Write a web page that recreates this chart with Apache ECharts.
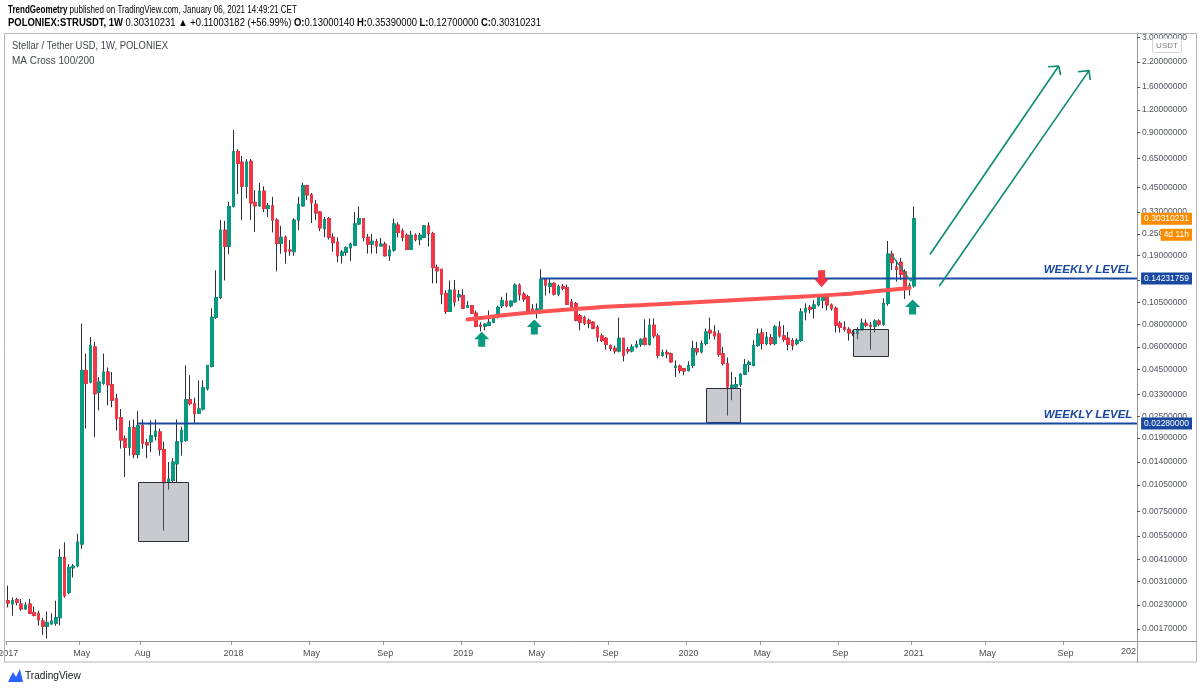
<!DOCTYPE html>
<html><head><meta charset="utf-8">
<script src="https://cdn.jsdelivr.net/npm/echarts@6/dist/echarts.min.js"></script>
<style>html,body{margin:0;padding:0;background:#fff}#c{width:1200px;height:690px}</style>
</head><body><div id="c"></div>
<script>
// ---------- data ----------
const firstWeek = '2017-01-02';
const weekCount = 261; // weekly slots on the time axis (data + empty future)

const opens = [
.00243,.00233,.00246,.00233,.00219,.00233,.00209,.00206,.00188,.00176,
.00181,.00183,.00196,.0042,.00269,.00368,.00378,.00497,.0446,.0385,
.06,.0339,.0379,.0437,.0372,.0312,.0246,.0188,.0169,.0216,
.0154,.0222,.0179,.0181,.0194,.0205,.0164,.0108,.0111,.0137,
.0181,.0184,.0308,.0293,.026,.0274,.0353,.0469,.0873,.112,
.2625,.214,.354,.71,.62,.457,.627,.373,.357,.43,
.345,.357,.298,.222,.24,.204,.2,.298,.357,.46,
.41,.364,.33,.267,.304,.24,.226,.191,.198,.21,
.217,.284,.304,.24,.22,.227,.215,.22,.19,.204,
.28,.26,.246,.206,.246,.233,.24,.277,.252,.164,
.16,.118,.094,.123,.113,.115,.099,.101,.092,.079,
.078,.079,.082,.088,.101,.107,.101,.106,.131,.117,
.113,.097,.095,.097,.141,.129,.134,.117,.129,.127,
.106,.104,.089,.087,.084,.082,.077,.069,.067,.061,
.059,.057,.067,.058,.057,.06,.062,.067,.062,.079,
.069,.054,.056,.055,.0463,.0471,.0455,.0446,.0475,.0587,
.0564,.0626,.074,.0725,.0707,.055,.0486,.036,.0362,.0373,
.0425,.048,.0475,.0612,.0716,.0626,.0675,.0626,.0773,.069,
.067,.065,.0626,.0652,.0934,.099,.0978,.102,.108,.116,
.102,.0978,.081,.077,.075,.0716,.0712,.0745,.081,.079,
.078,.0833,.08,.104,.194,.165,.175,.155,.127,.1300014
];
const closes = [
.00236,.00243,.00238,.00219,.0023,.00207,.00202,.00191,.00176,.00184,
.00188,.00196,.0042,.00258,.0037,.00376,.0051,.0446,.0379,.0612,
.0332,.0385,.0437,.0372,.0305,.0242,.0185,.0169,.0216,.0154,
.0222,.0178,.0174,.0196,.0207,.0164,.0108,.0113,.014,.0181,
.0209,.0308,.0293,.0258,.0274,.0358,.0475,.0873,.112,.2625,
.214,.354,.707,.61,.457,.62,.37,.357,.43,.345,
.357,.298,.222,.24,.2,.202,.298,.364,.46,.41,
.371,.326,.27,.3,.24,.224,.19,.199,.21,.22,
.284,.304,.24,.22,.228,.215,.22,.19,.204,.284,
.255,.24,.206,.246,.233,.246,.277,.252,.164,.157,
.117,.094,.123,.106,.116,.098,.101,.092,.078,.078,
.08,.082,.086,.099,.108,.101,.107,.131,.116,.11,
.094,.095,.097,.141,.131,.134,.117,.129,.126,.103,
.099,.084,.082,.081,.081,.076,.068,.065,.062,.059,
.057,.067,.054,.057,.06,.062,.066,.062,.079,.069,
.054,.056,.055,.0497,.0471,.0446,.0443,.0475,.0587,.0564,
.0626,.0725,.0716,.069,.0546,.0486,.0362,.037,.0373,.0425,
.048,.0494,.0612,.0707,.0626,.068,.0626,.0773,.069,.066,
.062,.0612,.0652,.0934,.0978,.0966,.102,.112,.114,.102,
.0978,.079,.077,.075,.0716,.0712,.0745,.081,.079,.078,
.0833,.08,.104,.194,.174,.16,.15,.127,.13,.30310231
];
const highs = [
.00294,.00253,.00252,.00248,.00238,.00248,.00226,.00214,.00196,.00212,
.00207,.00243,.00467,.00508,.00386,.00386,.00565,.0806,.0552,.068,
.064,.041,.0552,.0463,.0437,.0332,.0274,.0196,.0237,.024,
.0266,.024,.0188,.0237,.024,.0214,.0181,.014,.0147,.024,
.0219,.0475,.042,.0316,.0393,.0393,.0475,.0978,.158,.298,
.295,.376,.93,.73,.67,.644,.644,.4355,.478,.457,
.37,.4,.305,.277,.245,.231,.305,.4,.478,.466,
.42,.384,.334,.31,.31,.252,.24,.204,.214,.224,
.33,.354,.305,.25,.25,.235,.238,.227,.216,.304,
.29,.268,.252,.26,.252,.254,.28,.29,.257,.17,
.161,.123,.139,.14,.123,.124,.107,.102,.095,.082,
.081,.095,.09,.101,.113,.119,.108,.134,.134,.12,
.116,.103,.104,.16,.142,.142,.136,.132,.133,.132,
.11,.106,.091,.089,.086,.083,.079,.071,.068,.062,
.061,.087,.067,.06,.062,.065,.067,.085,.086,.086,
.071,.058,.058,.056,.0506,.048,.0457,.05,.065,.064,
.065,.0757,.087,.079,.074,.06,.0525,.0437,.041,.043,
.0515,.0506,.0652,.0757,.0757,.0725,.0707,.079,.083,.079,
.0725,.067,.067,.0978,.104,.102,.108,.114,.116,.117,
.104,.1,.083,.083,.077,.074,.077,.086,.085,.082,
.085,.085,.111,.229,.2025,.18,.185,.16,.135,.3539
];
const lows = [
.00223,.00201,.00229,.00214,.00216,.00206,.00199,.00177,.00158,.00151,
.0018,.00177,.00178,.00253,.00264,.00326,.0037,.00467,.0214,.0379,
.0192,.0269,.0372,.0287,.028,.0209,.0166,.0116,.0152,.0147,
.0147,.0166,.0147,.0159,.0184,.0152,.00589,.0099,.0108,.0108,
.0152,.0181,.0287,.0229,.0258,.0269,.0346,.0463,.0855,.11,
.139,.194,.35,.414,.298,.393,.298,.257,.353,.33,
.31,.255,.156,.195,.172,.19,.19,.2625,.353,.384,
.287,.298,.259,.24,.233,.2,.175,.172,.19,.178,
.215,.28,.228,.195,.195,.195,.214,.188,.178,.2,
.24,.228,.204,.206,.228,.217,.237,.214,.134,.134,
.103,.091,.094,.1,.107,.098,.098,.091,.077,.073,
.074,.078,.081,.086,.098,.099,.099,.105,.108,.106,
.093,.093,.086,.095,.115,.118,.115,.114,.123,.102,
.098,.083,.074,.079,.076,.075,.064,.064,.058,.057,
.055,.056,.05,.055,.056,.059,.06,.061,.061,.067,
.052,.053,.052,.049,.041,.043,.042,.044,.046,.054,
.0552,.0612,.066,.066,.053,.0475,.0252,.0306,.0357,.0362,
.042,.0437,.0469,.06,.058,.0612,.0612,.0612,.0675,.064,
.0575,.0575,.0612,.064,.084,.0916,.086,.1,.0978,.0954,
.095,.072,.072,.073,.065,.069,.066,.074,.077,.058,
.072,.078,.0783,.101,.159,.137,.14,.11,.115,.127
];

const priceTicks = [3.0,2.2,1.6,1.2,0.9,0.65,0.45,0.33,0.25,0.19,0.14,0.105,0.08,0.06,0.045,0.033,0.025,0.019,0.014,0.0105,0.0075,0.0055,0.0041,0.0031,0.0023,0.0017];
const timeTickDates = ['2017-01-02','2017-05-01','2017-08-07','2018-01-01','2018-05-07','2018-09-03','2019-01-07','2019-05-06','2019-09-02','2020-01-06','2020-05-04','2020-09-07','2021-01-04','2021-05-03','2021-09-06'];
const timeTickLabels = ['2017','May','Aug','2018','May','Sep','2019','May','Sep','2020','May','Sep','2021','May','Sep'];

const lastClose = 0.30310231;
const weeklyLevels = [0.14231759, 0.0228];
const weeklyLevelStarts = ['2019-05-13', '2017-07-31'];
const weeklyLevelTags = ['0.14231759', '0.02280000'];

const curveDates  = ['2019-01-14','2019-04-22','2019-08-05','2019-11-18','2020-03-02','2020-06-15','2020-09-07','2020-11-02','2020-12-28'];
const curvePrices = [0.0848,0.0924,0.0985,0.1028,0.1075,0.1123,0.1166,0.1212,0.1262];

const boxFrom   = [['2017-07-30',0.0109],['2020-02-04',0.0358],['2020-09-27',0.0755]];
const boxTo     = [['2017-10-18',0.00519],['2020-03-30',0.0234],['2020-11-22',0.0535]];

const upArrows   = [['2019-02-06',0.0661],['2019-05-02',0.0773],['2021-01-02',0.0993]];
const downArrows = [['2020-08-08',0.142]];

const bigArrow1 = [['2021-01-30',0.193],['2021-08-26',2.09]];
const bigArrow1Head = [['2021-08-09',2.071],['2021-08-26',2.09],['2021-08-29',1.865]];
const bigArrow2 = [['2021-02-14',0.1292],['2021-10-14',1.97]];
const bigArrow2Head = [['2021-09-26',1.945],['2021-10-14',1.97],['2021-10-16',1.751]];
const smallHook = [['2020-11-28',0.1946],['2020-12-30',0.1377],['2021-01-06',0.1543]];

// ---------- build ----------
const DAY = 864e5;
const weeks = [];
for (let i = 0; i < weekCount; i++) weeks.push(new Date(Date.UTC(2017,0,2) + i*7*DAY).toISOString().slice(0,10));
const T = s => echarts.time.parse(s).getTime();
const t0 = T(firstWeek);
const tMin = t0 - 3.5*DAY, tMax = t0 + (weekCount - 0.5)*7*DAY;
const yMin = 0.00146, yMax = 3.171;

const candleData = opens.map((o,i) => [o, closes[i], lows[i], highs[i]]);
const bodyData = opens.map((o,i) => [o, closes[i], Math.min(o,closes[i]), Math.max(o,closes[i])]);
const tickLogs = priceTicks.map(p => Math.log10(p));
const tickSet = new Set(timeTickDates);
const GREEN = '#089981', RED = '#f23645', BLUE = '#1848a0', TEAL = '#0b8a76', ORANGE = '#fb8c00';
const FONT = "'Liberation Sans',Arial,sans-serif";
const AXFONT = "'Liberation Sans',Arial,sans-serif";

const toT = arr => arr.map(p => [T(p[0]), p[1]]);
const upPath = 'path://M7.5,0 L15,7.5 L11,7.5 L11,15 L4,15 L4,7.5 L0,7.5 Z';
const downPath = 'path://M4,0 L11,0 L11,7.5 L15,7.5 L7.5,15 L0,7.5 L4,7.5 Z';

const tag = (price, text, color, dy) => ({
  value: [tMax, price],
  label: {show:true, position:[55, dy||0], align:'right', verticalAlign:'middle', formatter:text,
    backgroundColor:color, color:'#fff', padding:[2,3,1,3], fontSize:8.5, fontFamily:AXFONT}
});

const rich = (size) => ({
  n:{fontSize:size, fontFamily:FONT, color:'#131722'},
  b:{fontSize:size, fontFamily:FONT, color:'#131722', fontWeight:'bold'},
  g:{fontSize:size, fontFamily:FONT, color:'#089981'}
});

const option = {
  animation:false,
  backgroundColor:'#ffffff',
  grid:{left:6, top:33, width:1131, height:608, containLabel:false, outerBoundsMode:'none'},
  xAxis:[
    {type:'category', data:weeks, boundaryGap:true,
     axisLine:{onZero:false, lineStyle:{color:'#9598a1'}},
     axisTick:{show:true, interval:(i,v)=>tickSet.has(v), length:4, lineStyle:{color:'#9598a1'}},
     axisLabel:{interval:(i,v)=>tickSet.has(v), formatter:(v)=>timeTickLabels[timeTickDates.indexOf(v)], color:'#4a4c54', fontSize:9, margin:8, fontFamily:AXFONT},
     splitLine:{show:false}},
    {type:'time', min:tMin, max:tMax, show:false, axisLine:{onZero:false}}
  ],
  yAxis:[
    {type:'log', logBase:10, min:yMin, max:yMax, show:false, position:'right'},
    {type:'value', min:Math.log10(yMin), max:Math.log10(yMax), position:'right',
     axisLine:{show:true, onZero:false, lineStyle:{color:'#9598a1'}},
     axisTick:{show:true, customValues:tickLogs, length:3, lineStyle:{color:'#50535e'}},
     axisLabel:{customValues:tickLogs, color:'#50535e', fontSize:8.5, margin:5, fontFamily:AXFONT,
       formatter:(v)=>{ let k = tickLogs.findIndex(t=>Math.abs(t-v)<1e-6); return k<0?'':priceTicks[k].toFixed(8);} },
     splitLine:{show:false}}
  ],
  series:[
    {type:'candlestick', name:'wicks', xAxisIndex:0, yAxisIndex:0, data:candleData, barWidth:3, z:2, silent:true,
     itemStyle:{color:'#2a2e39', color0:'#2a2e39', borderColor:'#2a2e39', borderColor0:'#2a2e39', borderColorDoji:'#2a2e39', borderWidth:1}},
    {type:'candlestick', name:'bodies', xAxisIndex:0, yAxisIndex:0, data:bodyData, barWidth:3, z:3, silent:true,
     itemStyle:{color:GREEN, color0:RED, borderColor:GREEN, borderColor0:RED, borderColorDoji:GREEN, borderWidth:1}},
    {type:'custom', name:'boxes', xAxisIndex:1, yAxisIndex:0, z:4, silent:true,
     data: boxFrom.map((f,i)=>[T(f[0]), f[1], T(boxTo[i][0]), boxTo[i][1]]),
     encode:{x:[0,2], y:[1,3]},
     renderItem:(params, api)=>{
       const a = api.coord([api.value(0), api.value(1)]);
       const b = api.coord([api.value(2), api.value(3)]);
       return {type:'rect', shape:{x:Math.round(a[0])+0.5, y:Math.round(a[1])+0.5, width:Math.round(b[0]-a[0]), height:Math.round(b[1]-a[1])},
         style:{fill:'rgba(120,123,134,0.40)', stroke:'#2a2e39', lineWidth:1}};
     }},
    {type:'line', name:'level1', xAxisIndex:1, yAxisIndex:0, symbol:'none', z:5, silent:true,
     data:[[T(weeklyLevelStarts[0]), weeklyLevels[0]], [tMax, weeklyLevels[0]]], lineStyle:{color:BLUE, width:2}},
    {type:'line', name:'level2', xAxisIndex:1, yAxisIndex:0, symbol:'none', z:5, silent:true,
     data:[[T(weeklyLevelStarts[1]), weeklyLevels[1]], [tMax, weeklyLevels[1]]], lineStyle:{color:BLUE, width:2}},
    {type:'line', name:'curve', xAxisIndex:1, yAxisIndex:0, symbol:'none', smooth:0.4, z:6, silent:true,
     data:curveDates.map((d,i)=>[T(d), curvePrices[i]]), lineStyle:{color:'#ff5252', width:4, cap:'round'}},
    {type:'line', name:'arrow1', xAxisIndex:1, yAxisIndex:0, symbol:'none', z:6, silent:true, data:toT(bigArrow1), lineStyle:{color:TEAL, width:1.6}},
    {type:'line', name:'arrow1h', xAxisIndex:1, yAxisIndex:0, symbol:'none', z:6, silent:true, data:toT(bigArrow1Head), lineStyle:{color:TEAL, width:1.6}},
    {type:'line', name:'arrow2', xAxisIndex:1, yAxisIndex:0, symbol:'none', z:6, silent:true, data:toT(bigArrow2), lineStyle:{color:TEAL, width:1.6}},
    {type:'line', name:'arrow2h', xAxisIndex:1, yAxisIndex:0, symbol:'none', z:6, silent:true, data:toT(bigArrow2Head), lineStyle:{color:TEAL, width:1.6}},
    {type:'line', name:'hook', xAxisIndex:1, yAxisIndex:0, symbol:'none', z:6, silent:true, data:toT(smallHook), lineStyle:{color:TEAL, width:1.3}},
    {type:'scatter', name:'up', xAxisIndex:1, yAxisIndex:0, z:7, silent:true, symbol:upPath, symbolSize:[15,15],
     data:toT(upArrows), itemStyle:{color:GREEN, opacity:1}},
    {type:'scatter', name:'down', xAxisIndex:1, yAxisIndex:0, z:7, silent:true, symbol:downPath, symbolSize:[15,17],
     data:toT(downArrows), itemStyle:{color:RED, opacity:1}},
    {type:'scatter', name:'levelText', xAxisIndex:1, yAxisIndex:0, z:7, silent:true, symbolSize:0, clip:false,
     itemStyle:{opacity:1},
     data:weeklyLevels.map(v=>[T('2021-12-23'), v]),
     label:{show:true, position:'left', distance:0, offset:[0,-9], formatter:'WEEKLY LEVEL', color:BLUE,
       fontStyle:'italic', fontWeight:'bold', fontSize:11.5, fontFamily:AXFONT}},
    {type:'scatter', name:'tags', xAxisIndex:1, yAxisIndex:0, z:9, silent:true, symbolSize:0, clip:false,
     itemStyle:{opacity:1},
     data:[tag(lastClose, '0.30310231', ORANGE, 0), tag(lastClose, '4d 11h', ORANGE, 16),
           tag(weeklyLevels[0], weeklyLevelTags[0], BLUE, 0), tag(weeklyLevels[1], weeklyLevelTags[1], BLUE, 0)]}
  ],
  graphic:[
    {type:'rect', shape:{x:4.5, y:33.5, width:1192, height:628.5}, style:{fill:'none', stroke:'#b2b5be', lineWidth:1}, z:100, silent:true},
    {type:'line', shape:{x1:1137.5, y1:641, x2:1137.5, y2:662}, style:{stroke:'#9598a1', lineWidth:1}, z:100, silent:true},
    {type:'line', shape:{x1:1137, y1:641.5, x2:1197, y2:641.5}, style:{stroke:'#9598a1', lineWidth:1}, z:100, silent:true},
    {type:'text', x:8, y:10, scaleX:0.765, style:{text:'{b|TrendGeometry}{n| published on TradingView.com, January 06, 2021 14:49:21 CET}', rich:rich(10.5), verticalAlign:'middle'}, z:100, silent:true},
    {type:'text', x:8, y:23, scaleX:0.9, style:{text:'{b|POLONIEX:STRUSDT, 1W}{n| 0.30310231 }{g|▲}{n| +0.11003182 (+56.99%) }{b|O:}{g|0.13000140}{n| }{b|H:}{g|0.35390000}{n| }{b|L:}{g|0.12700000}{n| }{b|C:}{g|0.30310231}', rich:rich(10.5), verticalAlign:'middle'}, z:100, silent:true},
    {type:'text', x:12, y:46, scaleX:0.9, style:{text:'Stellar / Tether USD, 1W, POLONIEX', fill:'#434651', font:"10.5px "+FONT, verticalAlign:'middle'}, z:100, silent:true},
    {type:'text', x:12, y:61, scaleX:0.95, style:{text:'MA Cross 100/200', fill:'#434651', font:"10.5px "+FONT, verticalAlign:'middle'}, z:100, silent:true},
    {type:'rect', shape:{x:1152.5, y:38.5, width:29, height:14, r:2}, style:{fill:'#fff', stroke:'#d1d4dc', lineWidth:1}, z:100, silent:true},
    {type:'text', x:1167, y:45.5, style:{text:'USDT', fill:'#787b86', font:"8px "+AXFONT, align:'center', verticalAlign:'middle'}, z:101, silent:true},
    {type:'text', x:1136, y:652, style:{text:'202', fill:'#4a4c54', font:"9px "+AXFONT, align:'right', verticalAlign:'middle'}, z:100, silent:true},
    {type:'polygon', shape:{points:[[8,682],[13,672],[16,677],[20,669],[23,682]]}, style:{fill:'#2962ff'}, z:100, silent:true},
    {type:'text', x:25, y:676, scaleX:0.92, style:{text:'TradingView', fill:'#131722', font:"11px "+FONT, verticalAlign:'middle'}, z:100, silent:true}
  ]
};
const chart = echarts.init(document.getElementById('c'), null, {renderer:'canvas'});
chart.setOption(option);
</script>
</body></html>
